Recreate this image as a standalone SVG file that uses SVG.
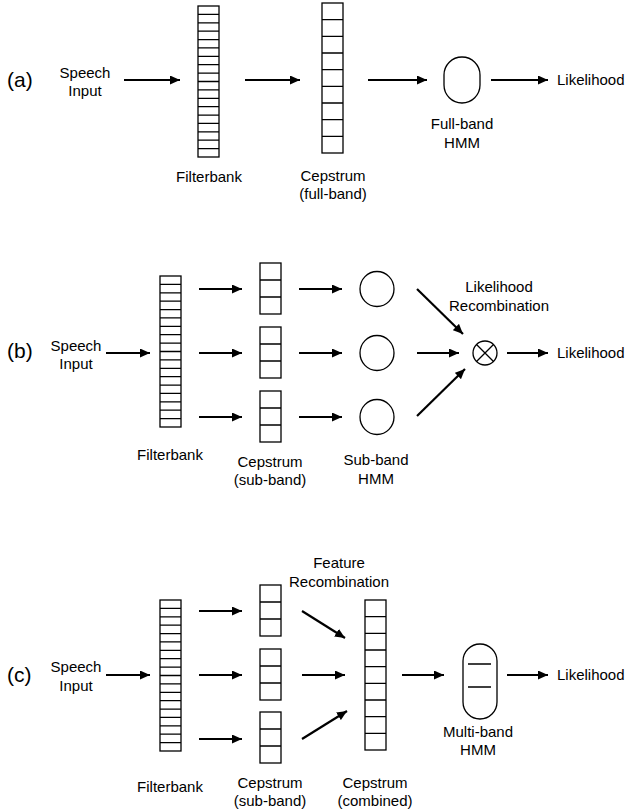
<svg xmlns="http://www.w3.org/2000/svg" xmlns:xlink="http://www.w3.org/1999/xlink" width="626" height="809" viewBox="0 0 626 809">
<style>
text{font-family:"Liberation Sans",Arial,sans-serif;font-size:15px;fill:#000}
.lbl{font-size:21px}
.m{text-anchor:middle}
.box{fill:#fff;stroke:#000;stroke-width:1.3}
.cell{stroke:#000;stroke-width:1.3;fill:none}
.arr{stroke:#000;stroke-width:2.2;fill:none;marker-end:url(#ah)}
</style>
<defs>
<marker id="ah" markerUnits="userSpaceOnUse" markerWidth="11" markerHeight="9" refX="10" refY="4.5" orient="auto">
<path d="M0,0 L10,4.5 L0,9 z" fill="#000"/>
</marker>
<g id="fb">
<rect class="box" x="0" y="0" width="21" height="151"/>
<path class="cell" d="M0,8.39H21M0,16.78H21M0,25.17H21M0,33.56H21M0,41.94H21M0,50.33H21M0,58.72H21M0,67.11H21M0,75.5H21M0,83.89H21M0,92.28H21M0,100.67H21M0,109.06H21M0,117.44H21M0,125.83H21M0,134.22H21M0,142.61H21"/>
</g>
<g id="cep9">
<rect class="box" x="0" y="0" width="21" height="150"/>
<path class="cell" d="M0,16.67H21M0,33.33H21M0,50H21M0,66.67H21M0,83.33H21M0,100H21M0,116.67H21M0,133.33H21"/>
</g>
<g id="cep3">
<rect class="box" x="0" y="0" width="21" height="51"/>
<path class="cell" d="M0,17H21M0,34H21"/>
</g>
</defs>
<rect width="626" height="809" fill="#fff"/>

<!-- Panel (a) -->
<g id="a-label"><text class="lbl" x="7" y="87">(a)</text></g>
<g id="a-speech"><text class="m" x="85" y="78">Speech</text><text class="m" x="85" y="96">Input</text></g>
<g id="a-filterbank"><use xlink:href="#fb" x="198" y="6"/><text class="m" x="209" y="182">Filterbank</text></g>
<g id="a-cepstrum"><use xlink:href="#cep9" x="322" y="3"/><text class="m" x="333" y="181">Cepstrum</text><text class="m" x="333" y="199">(full-band)</text></g>
<g id="a-hmm"><rect class="box" x="444" y="57" width="36" height="46" rx="18" ry="18"/><text class="m" x="462" y="129">Full-band</text><text class="m" x="462" y="148">HMM</text></g>
<g id="a-likelihood"><text x="557" y="85">Likelihood</text></g>

<!-- Panel (b) -->
<g id="b-label"><text class="lbl" x="7" y="358">(b)</text></g>
<g id="b-speech"><text class="m" x="76" y="351">Speech</text><text class="m" x="76" y="369">Input</text></g>
<g id="b-filterbank"><use xlink:href="#fb" x="160" y="276"/><text class="m" x="170" y="460">Filterbank</text></g>
<g id="b-cep1"><use xlink:href="#cep3" x="260" y="263"/></g>
<g id="b-cep2"><use xlink:href="#cep3" x="260" y="327"/></g>
<g id="b-cep3"><use xlink:href="#cep3" x="260" y="391"/></g>
<g id="b-cep-label"><text class="m" x="270" y="467">Cepstrum</text><text class="m" x="270" y="485">(sub-band)</text></g>
<g id="b-hmm1"><ellipse class="box" cx="377" cy="289" rx="17" ry="17.5"/></g>
<g id="b-hmm2"><ellipse class="box" cx="377" cy="353" rx="17" ry="17.5"/></g>
<g id="b-hmm3"><ellipse class="box" cx="377" cy="417" rx="17" ry="17.5"/></g>
<g id="b-hmm-label"><text class="m" x="376" y="465">Sub-band</text><text class="m" x="376" y="484">HMM</text></g>
<g id="b-recomb"><circle class="box" cx="485" cy="353" r="12"/><path class="cell" d="M476.5,344.5L493.5,361.5M493.5,344.5L476.5,361.5"/><text class="m" x="499" y="292">Likelihood</text><text class="m" x="499" y="311">Recombination</text></g>
<g id="b-likelihood"><text x="557" y="358">Likelihood</text></g>

<!-- Panel (c) -->
<g id="c-label"><text class="lbl" x="7" y="682">(c)</text></g>
<g id="c-speech"><text class="m" x="76" y="672">Speech</text><text class="m" x="76" y="691">Input</text></g>
<g id="c-filterbank"><use xlink:href="#fb" x="160" y="600"/><text class="m" x="170" y="792">Filterbank</text></g>
<g id="c-cep1"><use xlink:href="#cep3" x="260" y="585"/></g>
<g id="c-cep2"><use xlink:href="#cep3" x="260" y="649"/></g>
<g id="c-cep3"><use xlink:href="#cep3" x="260" y="712"/></g>
<g id="c-cep-label"><text class="m" x="270" y="788">Cepstrum</text><text class="m" x="270" y="806">(sub-band)</text></g>
<g id="c-recomb-label"><text class="m" x="339" y="568">Feature</text><text class="m" x="339" y="587">Recombination</text></g>
<g id="c-combined"><use xlink:href="#cep9" x="365" y="600"/><text class="m" x="375" y="788">Cepstrum</text><text class="m" x="375" y="806">(combined)</text></g>
<g id="c-hmm"><rect class="box" x="463" y="644" width="34" height="75" rx="17" ry="17"/><path class="cell" d="M468,664H491M468,687H491"/><text class="m" x="478" y="737">Multi-band</text><text class="m" x="478" y="755">HMM</text></g>
<g id="c-likelihood"><text x="557" y="680">Likelihood</text></g>

<g id="connectors">
<line class="arr" x1="124" y1="80" x2="180" y2="80"/>
<line class="arr" x1="245" y1="80" x2="300" y2="80"/>
<line class="arr" x1="368" y1="80" x2="427" y2="80"/>
<line class="arr" x1="491" y1="80" x2="548" y2="80"/>

<line class="arr" x1="106" y1="353" x2="150" y2="353"/>
<line class="arr" x1="199" y1="289" x2="242" y2="289"/>
<line class="arr" x1="199" y1="353" x2="242" y2="353"/>
<line class="arr" x1="199" y1="417" x2="242" y2="417"/>
<line class="arr" x1="299" y1="289" x2="342" y2="289"/>
<line class="arr" x1="299" y1="353" x2="342" y2="353"/>
<line class="arr" x1="299" y1="417" x2="342" y2="417"/>
<line class="arr" x1="417" y1="289" x2="463" y2="334"/>
<line class="arr" x1="417" y1="353" x2="459" y2="353"/>
<line class="arr" x1="417" y1="416" x2="465" y2="369"/>
<line class="arr" x1="507" y1="353" x2="548" y2="353"/>

<line class="arr" x1="106" y1="675" x2="150" y2="675"/>
<line class="arr" x1="199" y1="611" x2="242" y2="611"/>
<line class="arr" x1="199" y1="675" x2="242" y2="675"/>
<line class="arr" x1="199" y1="739" x2="242" y2="739"/>
<line class="arr" x1="302" y1="611" x2="345" y2="638"/>
<line class="arr" x1="302" y1="675" x2="345" y2="675"/>
<line class="arr" x1="302" y1="739" x2="347" y2="711"/>
<line class="arr" x1="402" y1="675" x2="444" y2="675"/>
<line class="arr" x1="507" y1="675" x2="548" y2="675"/>
</g>
</svg>
